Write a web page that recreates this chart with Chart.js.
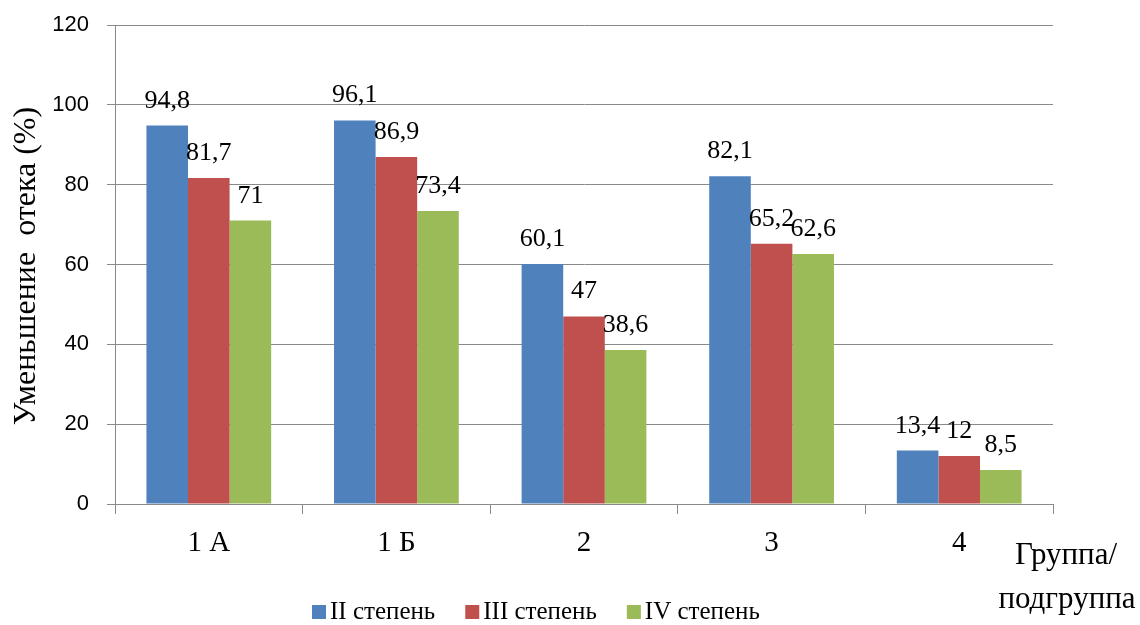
<!DOCTYPE html>
<html lang="ru">
<head>
<meta charset="UTF-8">
<title>Уменьшение отека</title>
<script src="https://cdn.jsdelivr.net/npm/chart.js"></script>
<style>
  html, body { margin: 0; padding: 0; background: #fff; }
  #wrap { width: 1140px; height: 625px; position: relative; }
</style>
</head>
<body>
<div id="wrap"><canvas id="edemaChart"></canvas></div>
<script>
// data
const groups = ['1 А', '1 Б', '2', '3', '4'];
const degreeNames = ['II степень', 'III степень', 'IV степень'];
const degreeII = [94.8, 96.1, 60.1, 82.1, 13.4];
const degreeIII = [81.7, 86.9, 47, 65.2, 12];
const degreeIV = [71, 73.4, 38.6, 62.6, 8.5];
const yTicks = [0, 20, 40, 60, 80, 100, 120];

const barColors = ['#4F81BD', '#C0504D', '#9BBB59'];
const gridColor = '#8a8a8a';
const serif = '"Liberation Serif", "Times New Roman", serif';

function fmt(v) {
    return String(v).replace('.', ',');
}

// value labels above bars, axis titles and legend
const extrasPlugin = {
    id: 'extras',
    afterDatasetsDraw(chart) {
        const ctx = chart.ctx;
        ctx.save();
        ctx.fillStyle = '#000';
        ctx.font = '26px ' + serif;
        ctx.textAlign = 'center';
        ctx.textBaseline = 'alphabetic';
        chart.data.datasets.forEach((ds, i) => {
            chart.getDatasetMeta(i).data.forEach((bar, j) => {
                ctx.fillText(fmt(ds.data[j]), bar.x, bar.y - 18);
            });
        });
        ctx.restore();
    },
    afterDraw(chart) {
        const ctx = chart.ctx;
        ctx.save();
        ctx.fillStyle = '#000';

        // y axis title
        ctx.font = '32px ' + serif;
        ctx.textAlign = 'center';
        ctx.textBaseline = 'alphabetic';
        ctx.translate(35, 266);
        ctx.rotate(-Math.PI / 2);
        ctx.fillText('Уменьшение  отека (%)', 0, 0);
        ctx.restore();

        // x axis title
        ctx.save();
        ctx.fillStyle = '#000';
        ctx.font = '31px ' + serif;
        ctx.textAlign = 'center';
        ctx.textBaseline = 'middle';
        ctx.fillText('Группа/', 1066, 556);
        ctx.fillText('подгруппа', 1067, 600);

        // legend
        ctx.font = '25px ' + serif;
        ctx.textAlign = 'left';
        let x = 312;
        chart.data.datasets.forEach(ds => {
            ctx.fillStyle = ds.backgroundColor;
            ctx.fillRect(x, 605, 14, 14);
            ctx.fillStyle = '#000';
            ctx.fillText(ds.label, x + 18, 612);
            x += 18 + ctx.measureText(ds.label).width + 30;
        });
        ctx.restore();
    }
};

function initEdemaChart() {
    const ctx = document.getElementById('edemaChart').getContext('2d');
    const series = [degreeII, degreeIII, degreeIV];
    new Chart(ctx, {
        type: 'bar',
        data: {
            labels: groups,
            datasets: series.map((vals, i) => ({
                label: degreeNames[i],
                data: vals,
                backgroundColor: barColors[i],
                borderWidth: 0
            }))
        },
        options: {
            responsive: true,
            maintainAspectRatio: false,
            animation: false,
            layout: {
                padding: { left: 0, right: 87, top: 25, bottom: 0 }
            },
            plugins: {
                legend: { display: false },
                tooltip: { enabled: false }
            },
            datasets: {
                bar: { categoryPercentage: 0.665, barPercentage: 1.0 }
            },
            scales: {
                x: {
                    afterFit(scale) { scale.height = 121; },
                    grid: {
                        offset: true,
                        drawOnChartArea: false,
                        tickLength: 10,
                        color: gridColor
                    },
                    border: { color: gridColor },
                    ticks: {
                        color: '#000',
                        padding: 12,
                        font: { family: serif, size: 29 }
                    }
                },
                y: {
                    min: yTicks[0],
                    max: yTicks[yTicks.length - 1],
                    afterFit(scale) {
                        scale.width = 115;
                        scale.paddingTop = 5;
                        scale.paddingBottom = 5;
                    },
                    afterBuildTicks(scale) {
                        scale.ticks = yTicks.map(v => ({ value: v }));
                    },
                    grid: {
                        color: gridColor,
                        tickLength: 8
                    },
                    border: { color: gridColor },
                    ticks: {
                        color: '#000',
                        padding: 18,
                        font: { family: '"Liberation Sans", Arial, sans-serif', size: 22 }
                    }
                }
            }
        },
        plugins: [extrasPlugin]
    });
}

initEdemaChart();
</script>
</body>
</html>
